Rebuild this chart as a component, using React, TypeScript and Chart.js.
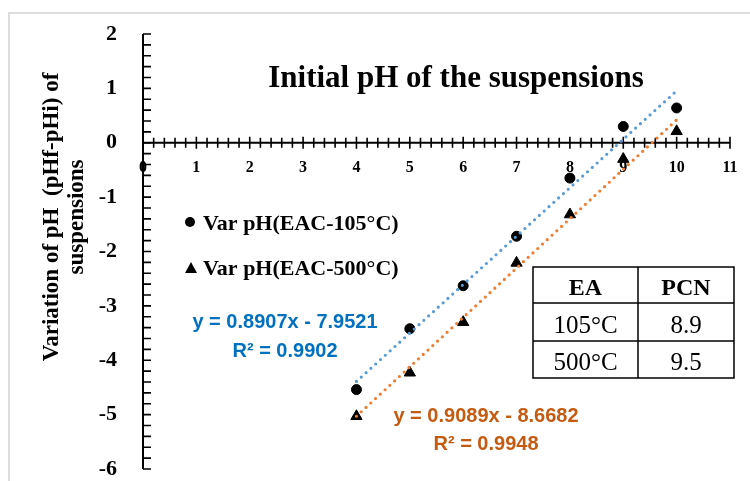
import React, { useEffect, useRef } from "react";
import { Chart, registerables } from "chart.js";

Chart.register(...registerables);

// ---- data ----
const initialPh = [4, 5, 6, 7, 8, 9, 10];
const varPh105 = [-4.54, -3.42, -2.63, -1.72, -0.65, 0.3, 0.64];
const varPh500 = [-5.03, -4.23, -3.3, -2.21, -1.32, -0.3, 0.21];
const seriesLabels = ["Var pH(EAC-105°C)", "Var pH(EAC-500°C)"];

const trendX = [4, 10];
const trend105 = [-4.39, 0.955];
const trend500 = [-5.03, 0.42];
const equation105 = ["y = 0.8907x - 7.9521", "R² = 0.9902"];
const equation500 = ["y = 0.9089x - 8.6682", "R² = 0.9948"];

const xRange = [0, 11];
const yRange = [-6, 2];

const chartTitle = "Initial pH of the suspensions";
const yTitleLines = ["Variation of pH  (pHf-pHi) of", "suspensions"];

const tableHeader = ["EA", "PCN"];
const tableRows = [
  ["105°C", "8.9"],
  ["500°C", "9.5"],
];

// ---- styles ----
const SERIF = "'Liberation Serif', 'Times New Roman', serif";
const SANS = "'Liberation Sans', Arial, sans-serif";
const BLUE_DOTS = "#5B9BD5";
const ORANGE_DOTS = "#ED7D31";
const BLUE_TEXT = "#0070C0";
const ORANGE_TEXT = "#C55A11";

const overlayPlugin = {
  id: "overlay",
  beforeDraw(chart: any) {
    const ctx = chart.ctx;
    ctx.save();
    ctx.fillStyle = "#ffffff";
    ctx.fillRect(0, 0, chart.width, chart.height);
    ctx.strokeStyle = "#DDDDDD";
    ctx.lineWidth = 2;
    ctx.beginPath();
    ctx.moveTo(9, chart.height);
    ctx.lineTo(9, 13);
    ctx.lineTo(chart.width, 13);
    ctx.stroke();
    ctx.restore();
  },
  beforeDatasetsDraw(chart: any) {
    const ctx = chart.ctx;
    const xs = chart.scales.x;
    const ys = chart.scales.y;
    const ax = xs.getPixelForValue(0);
    const ay = ys.getPixelForValue(0);
    ctx.save();
    ctx.strokeStyle = "#000";
    ctx.lineWidth = 2;
    ctx.beginPath();
    ctx.moveTo(ax, ys.getPixelForValue(yRange[1]));
    ctx.lineTo(ax, ys.getPixelForValue(yRange[0]));
    ctx.moveTo(xs.getPixelForValue(xRange[0]), ay);
    ctx.lineTo(xs.getPixelForValue(xRange[1]), ay);
    ctx.stroke();
    ctx.lineWidth = 1.6;
    ctx.beginPath();
    const ny = Math.round((yRange[1] - yRange[0]) / 0.2);
    for (let i = 0; i <= ny; i++) {
      const py = ys.getPixelForValue(yRange[0] + i * 0.2);
      ctx.moveTo(ax, py);
      ctx.lineTo(ax + 8, py);
    }
    const nx = Math.round((xRange[1] - xRange[0]) / 0.2);
    for (let i = 1; i <= nx; i++) {
      const px = xs.getPixelForValue(xRange[0] + i * 0.2);
      const major = i % 5 === 0;
      ctx.moveTo(px, ay - (major ? 6 : 5));
      ctx.lineTo(px, ay + (major ? 6 : 5));
    }
    ctx.stroke();
    ctx.restore();
  },
  afterDraw(chart: any) {
    const ctx = chart.ctx;
    ctx.save();
    ctx.fillStyle = "#000";
    // title
    ctx.font = `bold 31px ${SERIF}`;
    ctx.textAlign = "center";
    ctx.textBaseline = "alphabetic";
    ctx.fillText(chartTitle, 456, 87);

    // y axis title
    ctx.save();
    ctx.translate(58, 217);
    ctx.rotate(-Math.PI / 2);
    ctx.font = `bold 23px ${SERIF}`;
    ctx.textAlign = "center";
    ctx.fillText(yTitleLines[0], 0, 0);
    ctx.fillText(yTitleLines[1], 0, 25);
    ctx.restore();

    // legend
    const labels = chart.data.datasets.slice(0, 2).map((d: any) => d.label);
    ctx.font = `bold 22px ${SERIF}`;
    ctx.textAlign = "left";
    ctx.beginPath();
    ctx.arc(190, 222, 5, 0, Math.PI * 2);
    ctx.fill();
    ctx.fillText(labels[0], 203, 230);
    ctx.beginPath();
    ctx.moveTo(191, 262);
    ctx.lineTo(197, 273);
    ctx.lineTo(185, 273);
    ctx.closePath();
    ctx.fill();
    ctx.fillText(labels[1], 203, 275);

    // equations
    ctx.font = `bold 20px ${SANS}`;
    ctx.textAlign = "center";
    ctx.fillStyle = BLUE_TEXT;
    ctx.fillText(equation105[0], 285, 328);
    ctx.fillText(equation105[1], 285, 357);
    ctx.fillStyle = ORANGE_TEXT;
    ctx.fillText(equation500[0], 486, 422);
    ctx.fillText(equation500[1], 486, 450);

    // table
    const tx0 = 533, tx1 = 638, tx2 = 734;
    const ty = [267, 303, 341, 378];
    ctx.strokeStyle = "#000";
    ctx.lineWidth = 1.5;
    ctx.beginPath();
    ctx.rect(tx0, ty[0], tx2 - tx0, ty[3] - ty[0]);
    ctx.moveTo(tx1, ty[0]);
    ctx.lineTo(tx1, ty[3]);
    ctx.moveTo(tx0, ty[1]);
    ctx.lineTo(tx2, ty[1]);
    ctx.moveTo(tx0, ty[2]);
    ctx.lineTo(tx2, ty[2]);
    ctx.stroke();
    ctx.fillStyle = "#000";
    ctx.textAlign = "center";
    const c1 = (tx0 + tx1) / 2;
    const c2 = (tx1 + tx2) / 2;
    ctx.font = `bold 24px ${SERIF}`;
    ctx.fillText(tableHeader[0], c1, 295);
    ctx.fillText(tableHeader[1], c2, 295);
    ctx.font = `25px ${SERIF}`;
    ctx.fillText(tableRows[0][0], c1, 333);
    ctx.fillText(tableRows[0][1], c2, 333);
    ctx.fillText(tableRows[1][0], c1, 370);
    ctx.fillText(tableRows[1][1], c2, 370);
    ctx.restore();
  },
};

export default function App() {
  const ref = useRef<HTMLCanvasElement | null>(null);

  useEffect(() => {
    document.body.style.margin = "0";
    const canvas = ref.current;
    if (!canvas) return;
    const chart = new Chart(canvas, {
      type: "scatter",
      data: {
        datasets: [
          {
            label: seriesLabels[0],
            data: initialPh.map((x, i) => ({ x, y: varPh105[i] })),
            pointStyle: "circle",
            pointRadius: 5,
            pointBackgroundColor: "#000",
            pointBorderColor: "#000",
            pointBorderWidth: 1,
            showLine: false,
            order: 2,
          },
          {
            label: seriesLabels[1],
            data: initialPh.map((x, i) => ({ x, y: varPh500[i] })),
            pointStyle: "triangle",
            pointRadius: 6.5,
            pointBackgroundColor: "#000",
            pointBorderColor: "#000",
            pointBorderWidth: 1,
            showLine: false,
            order: 2,
          },
          {
            label: "trend105",
            data: trendX.map((x, i) => ({ x, y: trend105[i] })),
            showLine: true,
            pointRadius: 0,
            borderColor: BLUE_DOTS,
            borderWidth: 3.2,
            borderDash: [0, 6.5],
            borderCapStyle: "round",
            order: 1,
          },
          {
            label: "trend500",
            data: trendX.map((x, i) => ({ x, y: trend500[i] })),
            showLine: true,
            pointRadius: 0,
            borderColor: ORANGE_DOTS,
            borderWidth: 3.2,
            borderDash: [0, 6.5],
            borderCapStyle: "round",
            order: 1,
          },
        ],
      },
      options: {
        responsive: false,
        devicePixelRatio: 1,
        animation: false,
        layout: { padding: { top: 34, right: 20, bottom: 12, left: 0 } },
        plugins: {
          legend: { display: false },
          tooltip: { enabled: false },
          title: { display: false },
        },
        scales: {
          x: {
            type: "linear",
            min: xRange[0],
            max: xRange[1],
            position: { y: 0 } as any,
            grid: { display: false, drawTicks: false },
            border: { display: false },
            afterFit: (scale: any) => {
              scale.height = 0;
              scale.paddingLeft = 0;
              scale.paddingRight = 0;
            },
            ticks: {
              stepSize: 1,
              autoSkip: false,
              maxRotation: 0,
              padding: 16,
              color: "#000",
              font: { family: SERIF, size: 16, weight: "bold" },
            },
          },
          y: {
            type: "linear",
            min: yRange[0],
            max: yRange[1],
            grid: { display: false, drawTicks: false },
            border: { display: false },
            afterFit: (scale: any) => {
              scale.width = 143;
              scale.paddingTop = 0;
              scale.paddingBottom = 0;
            },
            ticks: {
              stepSize: 1,
              padding: 26,
              color: "#000",
              font: { family: SERIF, size: 22, weight: "bold" },
            },
          },
        },
      },
      plugins: [overlayPlugin],
    });
    return () => chart.destroy();
  }, []);

  return (
    <div style={{ width: 750, height: 481 }}>
      <canvas ref={ref} width={750} height={481} style={{ display: "block" }} />
    </div>
  );
}
